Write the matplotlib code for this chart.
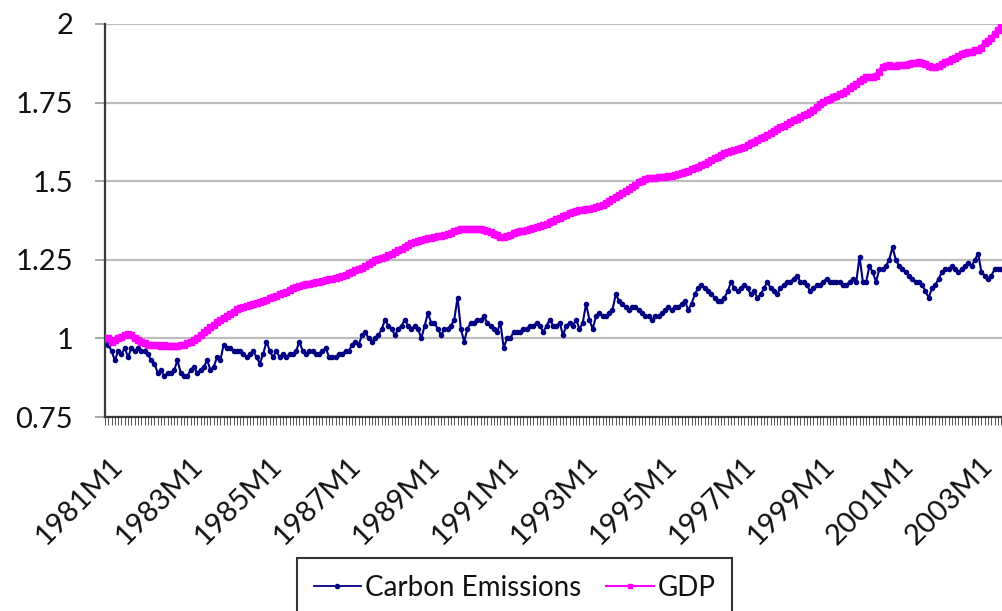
import matplotlib
matplotlib.use("Agg")
import matplotlib.pyplot as plt
import matplotlib.transforms as mtransforms
from matplotlib.ticker import FixedLocator
import numpy as np

plt.rcParams['font.family'] = ['Lato', 'DejaVu Sans']

# Monthly index values, 1981M1 .. 2003M9
carbon = [
    1.00, 0.98, 0.96, 0.93, 0.96, 0.95, 0.97, 0.94, 0.97, 0.96, 0.97, 0.96,  # 1981
    0.96, 0.95, 0.93, 0.92, 0.89, 0.90, 0.88, 0.89, 0.89, 0.90, 0.93, 0.89,  # 1982
    0.88, 0.88, 0.90, 0.91, 0.89, 0.90, 0.91, 0.93, 0.90, 0.91, 0.94, 0.93,  # 1983
    0.98, 0.97, 0.97, 0.96, 0.96, 0.96, 0.95, 0.94, 0.95, 0.96, 0.94, 0.92,  # 1984
    0.95, 0.99, 0.96, 0.94, 0.96, 0.94, 0.95, 0.94, 0.95, 0.95, 0.96, 0.99,  # 1985
    0.96, 0.95, 0.96, 0.96, 0.95, 0.95, 0.96, 0.97, 0.94, 0.94, 0.94, 0.95,  # 1986
    0.95, 0.96, 0.96, 0.98, 0.99, 0.98, 1.01, 1.02, 1.00, 0.99, 1.00, 1.01,  # 1987
    1.03, 1.06, 1.04, 1.03, 1.01, 1.03, 1.04, 1.06, 1.04, 1.03, 1.04, 1.03,  # 1988
    1.00, 1.04, 1.08, 1.05, 1.05, 1.03, 1.01, 1.03, 1.03, 1.04, 1.06, 1.13,  # 1989
    1.03, 0.99, 1.03, 1.05, 1.05, 1.06, 1.06, 1.07, 1.05, 1.04, 1.03, 1.02,  # 1990
    1.05, 0.97, 1.00, 1.00, 1.02, 1.02, 1.02, 1.03, 1.03, 1.04, 1.04, 1.05,  # 1991
    1.04, 1.02, 1.04, 1.06, 1.04, 1.04, 1.05, 1.01, 1.04, 1.05, 1.04, 1.06,  # 1992
    1.03, 1.05, 1.11, 1.06, 1.03, 1.07, 1.08, 1.07, 1.07, 1.08, 1.09, 1.14,  # 1993
    1.12, 1.11, 1.10, 1.09, 1.10, 1.10, 1.09, 1.08, 1.07, 1.07, 1.06, 1.07,  # 1994
    1.07, 1.08, 1.09, 1.10, 1.09, 1.10, 1.10, 1.11, 1.12, 1.09, 1.11, 1.14,  # 1995
    1.16, 1.17, 1.16, 1.15, 1.14, 1.13, 1.12, 1.12, 1.13, 1.15, 1.18, 1.16,  # 1996
    1.15, 1.16, 1.17, 1.16, 1.14, 1.15, 1.13, 1.14, 1.16, 1.18, 1.16, 1.15,  # 1997
    1.14, 1.16, 1.17, 1.18, 1.18, 1.19, 1.20, 1.18, 1.18, 1.17, 1.15, 1.16,  # 1998
    1.17, 1.17, 1.18, 1.19, 1.18, 1.18, 1.18, 1.18, 1.17, 1.17, 1.18, 1.19,  # 1999
    1.18, 1.26, 1.18, 1.18, 1.23, 1.21, 1.18, 1.22, 1.22, 1.23, 1.25, 1.29,  # 2000
    1.25, 1.23, 1.22, 1.21, 1.20, 1.19, 1.18, 1.18, 1.17, 1.15, 1.13, 1.16,  # 2001
    1.17, 1.19, 1.21, 1.22, 1.22, 1.23, 1.22, 1.21, 1.22, 1.23, 1.24, 1.23,  # 2002
    1.25, 1.27, 1.21, 1.20, 1.19, 1.20, 1.22, 1.22, 1.22,                    # 2003
]

gdp = [
    1.000, 1.000, 0.990, 0.995, 1.000, 1.005, 1.010, 1.015, 1.010, 1.000, 0.995, 0.990,  # 1981
    0.985, 0.980, 0.980, 0.978, 0.978, 0.977, 0.978, 0.977, 0.976, 0.976, 0.977, 0.978,  # 1982
    0.980, 0.985, 0.990, 0.995, 1.000, 1.010, 1.020, 1.028, 1.036, 1.044, 1.052, 1.060,  # 1983
    1.066, 1.072, 1.078, 1.085, 1.092, 1.097, 1.100, 1.104, 1.107, 1.110, 1.113, 1.116,  # 1984
    1.119, 1.123, 1.127, 1.131, 1.135, 1.140, 1.144, 1.149, 1.154, 1.159, 1.163, 1.167,  # 1985
    1.170, 1.172, 1.174, 1.176, 1.178, 1.180, 1.183, 1.186, 1.188, 1.190, 1.193, 1.196,  # 1986
    1.199, 1.203, 1.207, 1.212, 1.216, 1.220, 1.224, 1.230, 1.237, 1.244, 1.250, 1.253,  # 1987
    1.255, 1.260, 1.265, 1.270, 1.275, 1.280, 1.285, 1.290, 1.296, 1.302, 1.307, 1.311,  # 1988
    1.313, 1.315, 1.318, 1.320, 1.322, 1.325, 1.327, 1.329, 1.332, 1.336, 1.341, 1.345,  # 1989
    1.347, 1.348, 1.348, 1.349, 1.348, 1.347, 1.348, 1.346, 1.342, 1.338, 1.333, 1.328,  # 1990
    1.324, 1.323, 1.326, 1.330, 1.335, 1.338, 1.341, 1.343, 1.345, 1.347, 1.350, 1.353,  # 1991
    1.357, 1.361, 1.365, 1.369, 1.374, 1.379, 1.384, 1.389, 1.394, 1.399, 1.403, 1.406,  # 1992
    1.408, 1.409, 1.410, 1.412, 1.414, 1.417, 1.420, 1.424, 1.430, 1.437, 1.444, 1.450,  # 1993
    1.456, 1.462, 1.468, 1.475, 1.482, 1.489, 1.496, 1.502, 1.506, 1.509, 1.510, 1.511,  # 1994
    1.512, 1.513, 1.514, 1.516, 1.518, 1.520, 1.523, 1.526, 1.530, 1.534, 1.538, 1.542,  # 1995
    1.546, 1.550, 1.555, 1.561, 1.567, 1.574, 1.578, 1.584, 1.589, 1.593, 1.596, 1.599,  # 1996
    1.602, 1.606, 1.610, 1.615, 1.620, 1.625, 1.630, 1.636, 1.642, 1.648, 1.654, 1.660,  # 1997
    1.665, 1.671, 1.677, 1.683, 1.689, 1.694, 1.699, 1.704, 1.709, 1.714, 1.720, 1.728,  # 1998
    1.737, 1.745, 1.752, 1.758, 1.763, 1.768, 1.772, 1.777, 1.782, 1.788, 1.795, 1.802,  # 1999
    1.810, 1.818, 1.826, 1.831, 1.832, 1.831, 1.835, 1.848, 1.862, 1.868, 1.869, 1.868,  # 2000
    1.868, 1.869, 1.870, 1.871, 1.873, 1.875, 1.877, 1.878, 1.877, 1.872, 1.866, 1.863,  # 2001
    1.864, 1.868, 1.873, 1.878, 1.883, 1.888, 1.893, 1.898, 1.903, 1.907, 1.910, 1.912,  # 2002
    1.916, 1.918, 1.925, 1.938, 1.945, 1.955, 1.968, 1.980, 1.990,                       # 2003
]

months = [f"{1981 + i // 12}M{i % 12 + 1}" for i in range(len(gdp))]
tick_labels = ["1981M1", "1983M1", "1985M1", "1987M1", "1989M1", "1991M1",
               "1993M1", "1995M1", "1997M1", "1999M1", "2001M1", "2003M1"]
y_ticks = [0.75, 1.0, 1.25, 1.5, 1.75, 2.0]
y_tick_labels = ["0.75", "1", "1.25", "1.5", "1.75", "2"]

W, H = 1003, 611
FS = 21
fig = plt.figure(figsize=(W / 100, H / 100), dpi=100)
px_per_month = 3.295
x_right = 290
ax = fig.add_axes([105 / W, 1 - 417 / H, x_right * px_per_month / W, (417 - 24) / H])

x = np.arange(len(gdp))
ax.plot(x, carbon, color='#000080', lw=1.5, marker='o', ms=3.0,
        label='Carbon Emissions', zorder=3)
ax.plot(x, gdp, color='#FF00FF', lw=3.4, marker='s', ms=4.2,
        label='GDP', zorder=4)

ax.set_xlim(0, x_right)
ax.set_ylim(0.75, 2.0)

ax.set_yticks(y_ticks)
ax.set_yticklabels(y_tick_labels)
ax.yaxis.grid(True, color='#BDBDBD', lw=1.6)
ax.set_axisbelow(True)

for s in ['top', 'right']:
    ax.spines[s].set_visible(False)
for s in ['left', 'bottom']:
    ax.spines[s].set_color('#3a3a3a')
    ax.spines[s].set_linewidth(1.6)

ax.tick_params(axis='y', length=7, width=1.4, color='#A8A8A8', pad=16,
               labelsize=FS, labelcolor='#111111')

tick_pos = [months.index(t) for t in tick_labels]
ax.set_xticks(tick_pos)
ax.set_xticklabels(tick_labels)
ax.xaxis.set_minor_locator(FixedLocator(x))
ax.tick_params(axis='x', which='both', length=5.5, width=0.7, color='#555555',
               direction='out')
ax.tick_params(axis='x', which='major', pad=20, labelsize=FS, labelcolor='#111111')
offset = mtransforms.ScaledTranslation(5 / 100, 0, fig.dpi_scale_trans)
for lab in ax.get_xticklabels():
    lab.set_rotation(45)
    lab.set_ha('right')
    lab.set_va('top')
    lab.set_rotation_mode('anchor')
    lab.set_transform(lab.get_transform() + offset)

handles, labels = ax.get_legend_handles_labels()
leg = fig.legend(handles, labels, loc='upper left',
                 bbox_to_anchor=(297 / W, 1 - 558 / H), bbox_transform=fig.transFigure,
                 ncol=2, frameon=True, fancybox=False, edgecolor='black',
                 fontsize=20, handlelength=1.7, handletextpad=0.15,
                 columnspacing=0.9, borderpad=0.6, borderaxespad=0)
leg.get_frame().set_linewidth(1.5)
leg.legend_handles[1].set_linewidth(1.5)
leg.legend_handles[1].set_markersize(3.5)
leg.legend_handles[0].set_linewidth(1.3)
for t in leg.get_texts():
    t.set_color('#111111')

fig.savefig('out.png', dpi=100)
